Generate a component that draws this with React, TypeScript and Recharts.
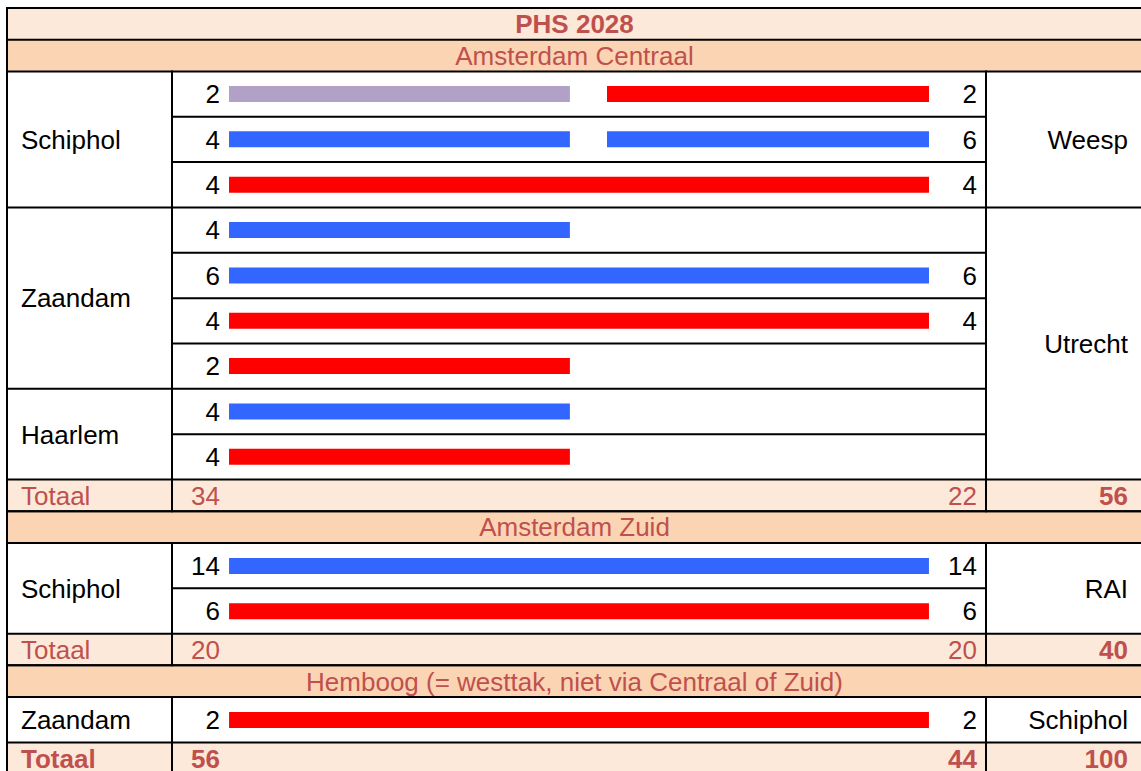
import React from 'react';
import { BarChart, Bar, XAxis, YAxis, Cell } from 'recharts';

// ---------- data ----------
const TITLE = 'PHS 2028';
const TOTAL_LABEL = 'Totaal';

const LINE_COLORS: Record<string, string> = {
  purple: '#B2A1C7',
  blue: '#3366FF',
  red: '#FF0000',
};

// route extents on the 0..100 route axis (west station .. Centraal .. east station)
const RUN_EXTENT: Record<string, [number, number]> = {
  west: [0, 48.7],
  east: [54, 100],
  through: [0, 100],
};

// Amsterdam Centraal
const acTitle = 'Amsterdam Centraal';
const acLeftCounts = [2, 4, 4, 4, 6, 4, 2, 4, 4];
const acRightCounts = [2, 6, 4, null, 6, 4, null, null, null];
const acFirstRun = ['west', 'west', 'through', 'west', 'through', 'through', 'west', 'west', 'west'];
const acFirstLine = ['purple', 'blue', 'red', 'blue', 'blue', 'red', 'red', 'blue', 'red'];
const acSecondRun = ['east', 'east', null, null, null, null, null, null, null];
const acSecondLine = ['red', 'blue', null, null, null, null, null, null, null];
const acLeftStations = ['Schiphol', 'Zaandam', 'Haarlem'];
const acLeftSpans = [3, 4, 2];
const acRightStations = ['Weesp', 'Utrecht'];
const acRightSpans = [3, 6];
const acTotals = [34, 22, 56];

// Amsterdam Zuid
const azTitle = 'Amsterdam Zuid';
const azLeftCounts = [14, 6];
const azRightCounts = [14, 6];
const azFirstRun = ['through', 'through'];
const azFirstLine = ['blue', 'red'];
const azSecondRun = [null, null];
const azSecondLine = [null, null];
const azLeftStations = ['Schiphol'];
const azLeftSpans = [2];
const azRightStations = ['RAI'];
const azRightSpans = [2];
const azTotals = [20, 20, 40];

// Hemboog
const hbTitle = 'Hemboog (= westtak, niet via Centraal of Zuid)';
const hbLeftCounts = [2];
const hbRightCounts = [2];
const hbFirstRun = ['through'];
const hbFirstLine = ['red'];
const hbSecondRun = [null];
const hbSecondLine = [null];
const hbLeftStations = ['Zaandam'];
const hbLeftSpans = [1];
const hbRightStations = ['Schiphol'];
const hbRightSpans = [1];
const grandTotals = [56, 44, 100];

// ---------- layout ----------
const W = 1141;
const HGT = 771;
const X0 = 7;
const XC1 = 172;
const XC2 = 986;
const X1 = 1142;
const Y0 = 8;
const HROW = 31.7;
const DROW = 45.35;
const BAR_LEFT = 229;
const BAR_RIGHT = 929;
const FONT = '"Liberation Sans", Arial, Helvetica, sans-serif';
const FS = 26;
const RED_TEXT = '#C0504D';
const LIGHT = '#FDE9D9';
const DARK = '#FBD4B4';

type Section = {
  title: string;
  left: (number | null)[];
  right: (number | null)[];
  run1: (string | null)[];
  line1: (string | null)[];
  run2: (string | null)[];
  line2: (string | null)[];
  lStations: string[];
  lSpans: number[];
  rStations: string[];
  rSpans: number[];
  totals: number[];
  bold: boolean;
};

const sections: Section[] = [
  { title: acTitle, left: acLeftCounts, right: acRightCounts, run1: acFirstRun, line1: acFirstLine, run2: acSecondRun, line2: acSecondLine, lStations: acLeftStations, lSpans: acLeftSpans, rStations: acRightStations, rSpans: acRightSpans, totals: acTotals, bold: false },
  { title: azTitle, left: azLeftCounts, right: azRightCounts, run1: azFirstRun, line1: azFirstLine, run2: azSecondRun, line2: azSecondLine, lStations: azLeftStations, lSpans: azLeftSpans, rStations: azRightStations, rSpans: azRightSpans, totals: azTotals, bold: false },
  { title: hbTitle, left: hbLeftCounts, right: hbRightCounts, run1: hbFirstRun, line1: hbFirstLine, run2: hbSecondRun, line2: hbSecondLine, lStations: hbLeftStations, lSpans: hbLeftSpans, rStations: hbRightStations, rSpans: hbRightSpans, totals: grandTotals, bold: true },
];

const base = (cy: number) => cy + 9.3;

function Txt(props: { x: number; cy: number; children: React.ReactNode; anchor?: 'start' | 'middle' | 'end'; color?: string; bold?: boolean }) {
  return (
    <text
      x={props.x}
      y={base(props.cy)}
      textAnchor={props.anchor || 'start'}
      fill={props.color || '#000'}
      fontWeight={props.bold ? 'bold' : 'normal'}
      fontFamily={FONT}
      fontSize={FS}
    >
      {props.children}
    </text>
  );
}

function spanBoundaries(spans: number[]): number[] {
  const out: number[] = [];
  let acc = 0;
  spans.forEach((s, i) => {
    acc += s;
    if (i < spans.length - 1) out.push(acc);
  });
  return out;
}

export default function App() {
  const bg: React.ReactNode[] = [];
  const lines: React.ReactNode[] = [];
  const texts: React.ReactNode[] = [];
  const charts: React.ReactNode[] = [];
  const LW = 2;
  const hLine = (y: number, xa: number, xb: number, k: string) =>
    lines.push(<line key={k} x1={xa - 1} x2={xb + 1} y1={y} y2={y} stroke="#000" strokeWidth={LW} />);
  const vLine = (x: number, ya: number, yb: number, k: string) =>
    lines.push(<line key={k} x1={x} x2={x} y1={ya - 1} y2={yb + 1} stroke="#000" strokeWidth={LW} />);

  let y = Y0;
  // title row
  bg.push(<rect key="tbg" x={X0} y={y} width={X1 - X0} height={HROW} fill={LIGHT} />);
  texts.push(<Txt key="title" x={(X0 + X1) / 2} cy={y + HROW / 2} anchor="middle" color={RED_TEXT} bold>{TITLE}</Txt>);
  hLine(y, X0, X1, 'top');
  y += HROW;

  sections.forEach((s, si) => {
    // header
    bg.push(<rect key={`hbg${si}`} x={X0} y={y} width={X1 - X0} height={HROW} fill={DARK} />);
    texts.push(<Txt key={`ht${si}`} x={(X0 + X1) / 2} cy={y + HROW / 2} anchor="middle" color={RED_TEXT}>{s.title}</Txt>);
    hLine(y, X0, X1, `hl${si}`);
    y += HROW;
    hLine(y, X0, X1, `hl2${si}`);

    const n = s.left.length;
    const top = y;
    const bottom = top + n * DROW;
    bg.push(<rect key={`dbg${si}`} x={X0} y={top} width={X1 - X0} height={n * DROW} fill="#fff" />);

    // row lines
    const lb = spanBoundaries(s.lSpans);
    const rb = spanBoundaries(s.rSpans);
    for (let i = 1; i < n; i++) {
      const ry = top + i * DROW;
      hLine(ry, XC1, XC2, `rl${si}-${i}`);
      if (lb.includes(i)) hLine(ry, X0, XC1, `rll${si}-${i}`);
      if (rb.includes(i)) hLine(ry, XC2, X1, `rlr${si}-${i}`);
    }
    vLine(XC1, top, bottom + HROW, `v1${si}`);
    vLine(XC2, top, bottom + HROW, `v2${si}`);

    // counts
    for (let i = 0; i < n; i++) {
      const cy = top + (i + 0.5) * DROW;
      if (s.left[i] != null) texts.push(<Txt key={`lc${si}-${i}`} x={220} cy={cy} anchor="end">{s.left[i]}</Txt>);
      if (s.right[i] != null) texts.push(<Txt key={`rc${si}-${i}`} x={977} cy={cy} anchor="end">{s.right[i]}</Txt>);
    }
    // stations
    let acc = 0;
    s.lStations.forEach((name, k) => {
      const cy = top + (acc + s.lSpans[k] / 2) * DROW;
      acc += s.lSpans[k];
      texts.push(<Txt key={`ls${si}-${k}`} x={21} cy={cy}>{name}</Txt>);
    });
    acc = 0;
    s.rStations.forEach((name, k) => {
      const cy = top + (acc + s.rSpans[k] / 2) * DROW;
      acc += s.rSpans[k];
      texts.push(<Txt key={`rs${si}-${k}`} x={1128} cy={cy} anchor="end">{name}</Txt>);
    });

    // chart data
    const data = s.left.map((_, i) => ({
      key: `${si}-${i}`,
      first: s.run1[i] ? RUN_EXTENT[s.run1[i] as string] : null,
      second: s.run2[i] ? RUN_EXTENT[s.run2[i] as string] : null,
    }));
    charts.push(
      <div key={`c${si}`} style={{ position: 'absolute', left: 0, top, width: W, height: n * DROW, pointerEvents: 'none' }}>
        <BarChart
          width={W}
          height={n * DROW}
          data={data}
          layout="vertical"
          margin={{ top: 0, right: W - BAR_RIGHT, bottom: 0, left: BAR_LEFT }}
          barGap={-16}
          barSize={16}
        >
          <XAxis type="number" domain={[0, 100]} hide />
          <YAxis type="category" dataKey="key" hide />
          <Bar dataKey="first" isAnimationActive={false}>
            {data.map((_, i) => (
              <Cell key={i} fill={s.line1[i] ? LINE_COLORS[s.line1[i] as string] : 'transparent'} />
            ))}
          </Bar>
          <Bar dataKey="second" isAnimationActive={false}>
            {data.map((_, i) => (
              <Cell key={i} fill={s.line2[i] ? LINE_COLORS[s.line2[i] as string] : 'transparent'} />
            ))}
          </Bar>
        </BarChart>
      </div>
    );

    // totals row
    y = bottom;
    hLine(y, X0, X1, `tl${si}`);
    bg.push(<rect key={`tobg${si}`} x={X0} y={y} width={X1 - X0} height={HROW} fill={LIGHT} />);
    const tcy = y + HROW / 2;
    texts.push(<Txt key={`tt${si}`} x={21} cy={tcy} color={RED_TEXT} bold={s.bold}>{TOTAL_LABEL}</Txt>);
    texts.push(<Txt key={`t1${si}`} x={191} cy={tcy} color={RED_TEXT} bold={s.bold}>{s.totals[0]}</Txt>);
    texts.push(<Txt key={`t2${si}`} x={977} cy={tcy} anchor="end" color={RED_TEXT} bold={s.bold}>{s.totals[1]}</Txt>);
    texts.push(<Txt key={`t3${si}`} x={1128} cy={tcy} anchor="end" color={RED_TEXT} bold>{s.totals[2]}</Txt>);
    y += HROW;
    hLine(y, X0, X1, `tlb${si}`);
  });

  vLine(X0, Y0, y, 'vl');
  vLine(X1, Y0, y, 'vr');

  return (
    <div style={{ position: 'absolute', left: 0, top: 0, width: W, height: HGT, overflow: 'hidden', background: '#fff' }}>
      <svg width={W} height={HGT} style={{ position: 'absolute', left: 0, top: 0 }}>
        {bg}
        {lines}
        {texts}
      </svg>
      {charts}
    </div>
  );
}
